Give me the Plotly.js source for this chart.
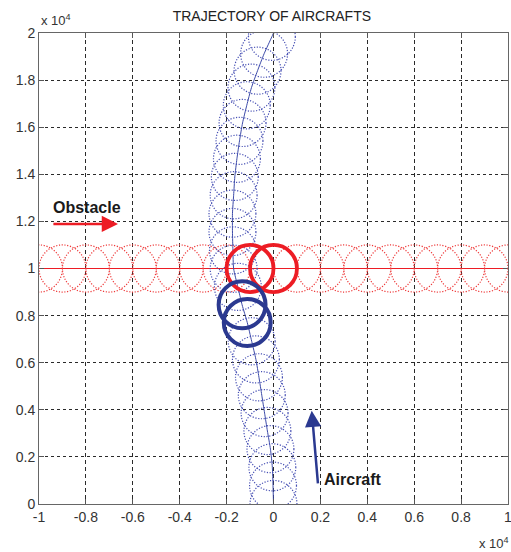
<!DOCTYPE html>
<html>
<head>
<meta charset="utf-8">
<script src="https://cdn.plot.ly/plotly-3.0.1.min.js"></script>
<style>
  html, body { margin: 0; padding: 0; background: #fff; }
  #chart { width: 511px; height: 552px; }
</style>
</head>
<body>
<div id="chart"></div>
<script>
// Values in units of 10^4
const obstacleX = [-1.0, -0.9, -0.8, -0.7, -0.6, -0.5, -0.4, -0.3, -0.2, -0.1, 0.0, 0.1, 0.2, 0.3, 0.4, 0.5, 0.6, 0.7, 0.8, 0.9, 1.0];
const obstacleY = [1, 1, 1, 1, 1, 1, 1, 1, 1, 1, 1, 1, 1, 1, 1, 1, 1, 1, 1, 1, 1];
const aircraftX = [0, -0.002, -0.005, -0.013, -0.026, -0.038, -0.050, -0.062, -0.075, -0.093, -0.112, -0.134, -0.152, -0.170, -0.173, -0.175, -0.175, -0.170, -0.165, -0.156, -0.145, -0.132, -0.114, -0.094, -0.068, -0.040, -0.007];
const aircraftY = [0, 0.078, 0.156, 0.233, 0.310, 0.386, 0.462, 0.538, 0.614, 0.691, 0.771, 0.846, 0.922, 0.999, 1.077, 1.155, 1.233, 1.311, 1.389, 1.466, 1.542, 1.618, 1.693, 1.768, 1.840, 1.912, 1.984];
const pathEndX = [0.0];
const pathEndY = [2.0];
const safetyRadius = 0.1;
const obstacleHighlight = [9, 10];   // indices into obstacle circles
const aircraftHighlight = [10, 11];  // indices into aircraft circles
const xTickVals = [-1, -0.8, -0.6, -0.4, -0.2, 0, 0.2, 0.4, 0.6, 0.8, 1];
const xTickText = ['-1', '-0.8', '-0.6', '-0.4', '-0.2', '0', '0.2', '0.4', '0.6', '0.8', '1'];
const yTickVals = [0, 0.2, 0.4, 0.6, 0.8, 1, 1.2, 1.4, 1.6, 1.8, 2];
const yTickText = ['0', '0.2', '0.4', '0.6', '0.8', '1', '1.2', '1.4', '1.6', '1.8', '2'];

const FONT = '"Liberation Sans", Arial, sans-serif';
const RED = '#ed1c24';
const RED_DOT = '#ee3a3a';
const BLUE = '#2b3990';
const BLUE_DOT = '#4750b4';
const BLUE_LINE = '#3c4aa8';

function circle(cx, cy, color, width, dash) {
  return {
    type: 'circle', xref: 'x', yref: 'y',
    x0: cx - safetyRadius, x1: cx + safetyRadius,
    y0: cy - safetyRadius, y1: cy + safetyRadius,
    line: { color: color, width: width, dash: dash }
  };
}

const shapes = [];
obstacleX.forEach((x, i) => shapes.push(circle(x, obstacleY[i], RED_DOT, 1.2, '1.2px,1.6px')));
aircraftX.forEach((x, i) => shapes.push(circle(x, aircraftY[i], BLUE_DOT, 1.2, '1.2px,1.6px')));
obstacleHighlight.forEach(i => shapes.push(circle(obstacleX[i], obstacleY[i], RED, 3.8, 'solid')));
aircraftHighlight.forEach(i => shapes.push(circle(aircraftX[i], aircraftY[i], BLUE, 4, 'solid')));

const traces = [
  {
    x: obstacleX, y: obstacleY, type: 'scatter', mode: 'lines',
    line: { color: RED, width: 1 }, hoverinfo: 'skip'
  },
  {
    x: aircraftX.concat(pathEndX), y: aircraftY.concat(pathEndY), type: 'scatter', mode: 'lines',
    line: { color: BLUE_LINE, width: 1, shape: 'spline', smoothing: 0.6 }, hoverinfo: 'skip'
  }
];

const axisCommon = {
  showgrid: true, gridcolor: '#2a2a2a', gridwidth: 1,
  zeroline: false, showline: true, linecolor: '#666', linewidth: 1, mirror: 'ticks',
  ticks: 'inside', ticklen: 5, tickcolor: '#555', tickwidth: 1,
  tickfont: { family: FONT, size: 14, color: '#333' },
  tickmode: 'array', fixedrange: true, ticklabeloverflow: 'allow'
};

const layout = {
  width: 511, height: 552,
  margin: { l: 39, r: 3, t: 33, b: 48 },
  paper_bgcolor: '#fff', plot_bgcolor: '#fff',
  showlegend: false,
  title: {
    text: 'TRAJECTORY OF AIRCRAFTS',
    font: { family: FONT, size: 14, color: '#222' },
    x: 0.532, xanchor: 'center', xref: 'container',
    y: 1 - 16 / 552, yanchor: 'middle', yref: 'container'
  },
  xaxis: Object.assign({}, axisCommon, {
    range: [-1, 1], tickvals: xTickVals, ticktext: xTickText, griddash: '4px,3px'
  }),
  yaxis: Object.assign({}, axisCommon, {
    range: [0, 2], tickvals: yTickVals, ticktext: yTickText, griddash: '3px,3px'
  }),
  shapes: shapes,
  annotations: [
    { xref: 'paper', yref: 'paper', x: 0, y: 1, xanchor: 'left', yanchor: 'bottom', yshift: 3,
      text: 'x 10<sup>4</sup>', showarrow: false, font: { family: FONT, size: 13, color: '#333' } },
    { xref: 'paper', yref: 'paper', x: 1, y: 0, xanchor: 'right', yanchor: 'middle', yshift: -39, xshift: 3,
      text: 'x 10<sup>4</sup>', showarrow: false, font: { family: FONT, size: 13, color: '#333' } },
    { xref: 'x', yref: 'y', x: -0.797, y: 1.257, text: '<b>Obstacle</b>', showarrow: false,
      font: { family: FONT, size: 16, color: '#1a1a1a' } },
    { xref: 'x', yref: 'y', x: 0.339, y: 0.102, text: '<b>Aircraft</b>', showarrow: false,
      font: { family: FONT, size: 16, color: '#1a1a1a' } },
    { xref: 'x', yref: 'y', axref: 'x', ayref: 'y', x: -0.663, y: 1.189, ax: -0.945, ay: 1.189,
      text: '', showarrow: true, arrowhead: 2, arrowsize: 1.3, arrowwidth: 2.5, arrowcolor: RED },
    { xref: 'x', yref: 'y', axref: 'x', ayref: 'y', x: 0.163, y: 0.396, ax: 0.19, ay: 0.081,
      text: '', showarrow: true, arrowhead: 2, arrowsize: 1.3, arrowwidth: 2.5, arrowcolor: BLUE }
  ]
};

Plotly.newPlot('chart', traces, layout, { staticPlot: true, displayModeBar: false });
</script>
</body>
</html>
